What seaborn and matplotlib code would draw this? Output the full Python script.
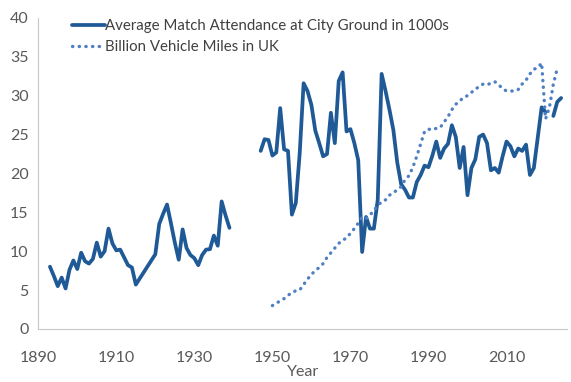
import numpy as np
import pandas as pd
import matplotlib
matplotlib.use("Agg")
import matplotlib.pyplot as plt
import seaborn as sns

# ----------------------------
# Data
# ----------------------------
# attendance (1000s); NaN marks seasons with no data (WWII, 2021)
att_years = ([1893, 1894, 1895, 1896, 1897, 1898, 1899, 1900, 1901, 1902, 1903, 1904,
              1905, 1906, 1907, 1908, 1909, 1910, 1911, 1912, 1913, 1914, 1915,
              1920, 1921, 1922, 1923, 1924, 1925, 1926, 1927, 1928, 1929, 1930,
              1931, 1932, 1933, 1934, 1935, 1936, 1937, 1938, 1939, 1940]
             + list(range(1947, 2025)))
att_values = [8.0, 6.8, 5.5, 6.6, 5.2, 7.6, 8.8, 7.7, 9.8, 8.7, 8.4, 9.0,
              11.1, 9.3, 10.0, 12.9, 11.0, 10.1, 10.2, 9.2, 8.2, 7.9, 5.7,
              9.6, 13.5, 14.8, 16.0, 13.6, 11.1, 8.9, 12.8, 10.4, 9.5, 9.1,
              8.2, 9.5, 10.2, 10.25, 12.0, 10.7, 16.4, 14.6, 13.0, np.nan,
              # 1947-1960
              22.9, 24.4, 24.3, 22.3, 22.7, 28.4, 23.1, 22.9, 14.7, 16.2, 22.6, 31.6, 30.6, 28.8,
              # 1961-1980
              25.5, 23.9, 22.2, 22.5, 27.8, 23.9, 31.9, 33.0, 25.4, 25.7,
              23.9, 21.7, 9.9, 14.4, 12.9, 12.9, 16.6, 32.8, 30.6, 28.2,
              # 1981-2000
              25.6, 21.4, 18.6, 17.9, 16.9, 16.9, 18.9, 19.8, 21.0, 20.8,
              22.3, 24.1, 22.0, 23.2, 23.8, 26.2, 24.7, 20.7, 23.4, 17.2,
              # 2001-2020
              20.7, 21.8, 24.7, 25.0, 23.9, 20.4, 20.7, 20.1, 22.2, 24.1,
              23.5, 22.2, 23.2, 22.9, 23.7, 19.8, 20.7, 24.6, 28.5, 27.9,
              # 2021-2024
              np.nan, 27.4, 29.2, 29.7]

# billion vehicle miles, 1950-2023
veh_years = list(range(1950, 2024))
veh_values = [3.0, 3.3, 3.6, 3.9, 4.3, 4.7, 4.9, 5.0, 5.7, 6.4,
              7.0, 7.5, 7.9, 8.4, 9.2, 9.8, 10.4, 11.0, 11.4, 11.7,
              12.3, 12.9, 13.6, 14.4, 14.2, 14.6, 15.3, 15.8, 16.4, 16.6,
              17.2, 17.5, 17.9, 18.3, 19.2, 19.7, 20.8, 22.2, 23.8, 25.4,
              25.7, 25.6, 25.8, 25.9, 26.6, 27.3, 28.2, 28.9, 29.3, 29.8,
              30.0, 30.4, 30.9, 31.1, 31.5, 31.4, 31.6, 31.8, 31.4, 30.9,
              30.6, 30.6, 30.6, 30.8, 31.5, 32.0, 32.8, 33.4, 33.6, 34.2,
              27.0, 28.5, 31.5, 33.5]

att_label = "Average Match Attendance at City Ground in 1000s"
veh_label = "Billion Vehicle Miles in UK"
x_ticks = [1890, 1910, 1930, 1950, 1970, 1990, 2010]
y_ticks = [0, 5, 10, 15, 20, 25, 30, 35, 40]

att = pd.DataFrame({"Year": att_years, "value": att_values})
# split the attendance line where the data is missing
att["seg"] = att["value"].isna().cumsum()
att = att.dropna()
veh = pd.DataFrame({"Year": veh_years, "value": veh_values})

sns.set_style("white")
plt.rcParams["font.family"] = ["Lato", "DejaVu Sans"]

solid_col = "#1f5a97"
dot_col = "#4f80c3"
dots = (0, (0.1, 1.9))

fig, ax = plt.subplots(figsize=(5.71, 3.82), dpi=100)
fig.subplots_adjust(left=0.067, right=0.993, top=0.953, bottom=0.139)

sns.lineplot(data=att, x="Year", y="value", units="seg", estimator=None,
             color=solid_col, linewidth=2.7, ax=ax)
sns.lineplot(data=veh, x="Year", y="value", color=dot_col, linewidth=2.4,
             linestyle=dots, dash_capstyle="round", ax=ax)

ax.set_xlim(1890, 2025.5)
ax.set_ylim(0, 40)
ax.set_xticks(x_ticks)
ax.set_yticks(y_ticks)
ax.tick_params(axis="x", length=4, width=0.8, color="#bfbfbf", colors="#595959",
               labelsize=11.5, pad=12)
ax.tick_params(axis="y", length=0, colors="#595959", labelsize=11.5, pad=7)
for s in ["top", "right"]:
    ax.spines[s].set_visible(False)
for s in ["left", "bottom"]:
    ax.spines[s].set_color("#c8c8c8")
    ax.spines[s].set_linewidth(0.8)

ax.set_xlabel("Year", fontsize=11.5, color="#595959", labelpad=0)
ax.set_ylabel("")

handles = [plt.Line2D([], [], color=solid_col, linewidth=2.7),
           plt.Line2D([], [], color=dot_col, linewidth=2.4,
                      linestyle=dots, dash_capstyle="round")]
ax.legend(handles, [att_label, veh_label], loc="upper left",
          bbox_to_anchor=(0.038, 1.04), frameon=False, fontsize=10.8,
          handlelength=2.2, handletextpad=0.0, labelspacing=0.45,
          labelcolor="#404040")

plt.savefig("out.png", dpi=100)
